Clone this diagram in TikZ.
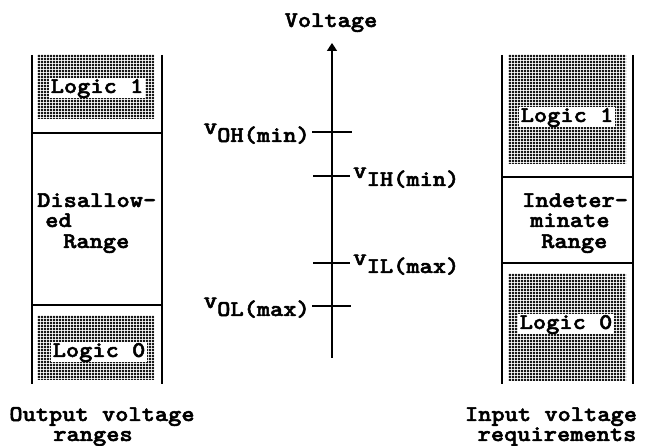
\documentclass[tikz,border=0pt]{standalone}
\usepackage{fontspec}
\usepackage{graphicx}
\newfontfamily\cour{lmmonolt10-bold}[Extension=.otf,FakeStretch=1.12,FakeBold=2.2]
\usetikzlibrary{patterns.meta,arrows.meta}
\tikzset{
  txt/.style={font=\cour\fontsize{22.5}{22.5}\selectfont, inner sep=0pt, text height=13pt, text depth=3pt},
  lbl/.style={txt, fill=white, inner xsep=2pt, inner ysep=2pt},
  dotfill/.style={pattern={Dots[distance=3pt,radius=1.3pt]}, pattern color=black},
  col/.style={line width=1.8pt},
  tickln/.style={line width=1.6pt},
}
\newcommand\Vsm{\raisebox{8pt}{\scalebox{1.35}[1]{\fontsize{17}{17}\selectfont V}}}
\begin{document}
\begin{tikzpicture}[x=1pt,y=-1pt]
\useasboundingbox (0,0) rectangle (654,446);
% shaded regions
\fill[dotfill] (37,55) rectangle (154,119);
\fill[dotfill] (37,316) rectangle (154,380);
\fill[dotfill] (508,55) rectangle (626,164);
\fill[dotfill] (508,274) rectangle (626,381);
% left column
\draw[col] (32,55) -- (32,384);
\draw[col] (162,55) -- (162,384);
\draw[col] (32,133) -- (162,133);
\draw[col] (32,305) -- (162,305);
% right column
\draw[col] (502,55) -- (502,384);
\draw[col] (633,55) -- (633,384);
\draw[col] (502,177) -- (633,177);
\draw[col] (502,263) -- (633,263);
% labels in shaded areas
\node[lbl] (l1) at (97,88) {Logic 1};
\node[lbl] (l0) at (99,352) {Logic 0};
\node[lbl] (r1) at (567,117) {Logic 1};
\node[lbl] (r0) at (566,324) {Logic 0};
% middle texts
\node[txt, anchor=base west] (d1) at (37,207) {Disallow-};
\node[txt, anchor=base west] (d2) at (45,227) {ed};
\node[txt, anchor=base west] (d3) at (63,248) {Range};
\node[txt, anchor=base west] (i1) at (522,207) {Indeter-};
\node[txt, anchor=base west] (i2) at (530,227) {minate};
\node[txt, anchor=base west] (i3) at (541,248) {Range};
% captions
\node[txt, anchor=base] (c1) at (102,421) {Output voltage};
\node[txt, anchor=base] (c2) at (93,441) {ranges};
\node[txt, anchor=base] (c3) at (551,421) {Input voltage};
\node[txt, anchor=base] (c4) at (557,441) {requirements};
% axis
\node[txt, anchor=base] (vt) at (331,27) {Voltage};
\coordinate (axb) at (332,358);
\coordinate (axt) at (332,43);
\draw[tickln, -{Triangle[width=10pt,length=8pt]}] (axb) -- (axt);
% ticks
\coordinate (ohL) at (312,132); \coordinate (ohR) at (352,132);
\coordinate (ihL) at (313,176); \coordinate (ihR) at (350,176);
\coordinate (ilL) at (313,263); \coordinate (ilR) at (350,263);
\coordinate (olL) at (312,306); \coordinate (olR) at (351,306);
\draw[tickln] (ohL) -- (ohR);
\draw[tickln] (ihL) -- (ihR);
\draw[tickln] (ilL) -- (ilR);
\draw[tickln] (olL) -- (olR);
\node[txt, anchor=base east] (voh) at (310,142) {\Vsm OH(min)};
\node[txt, anchor=base west] (vih) at (353,186) {\Vsm IH(min)};
\node[txt, anchor=base west] (vil) at (353,273) {\Vsm IL(max)};
\node[txt, anchor=base east] (vol) at (310,316) {\Vsm OL(max)};
\end{tikzpicture}
\end{document}
